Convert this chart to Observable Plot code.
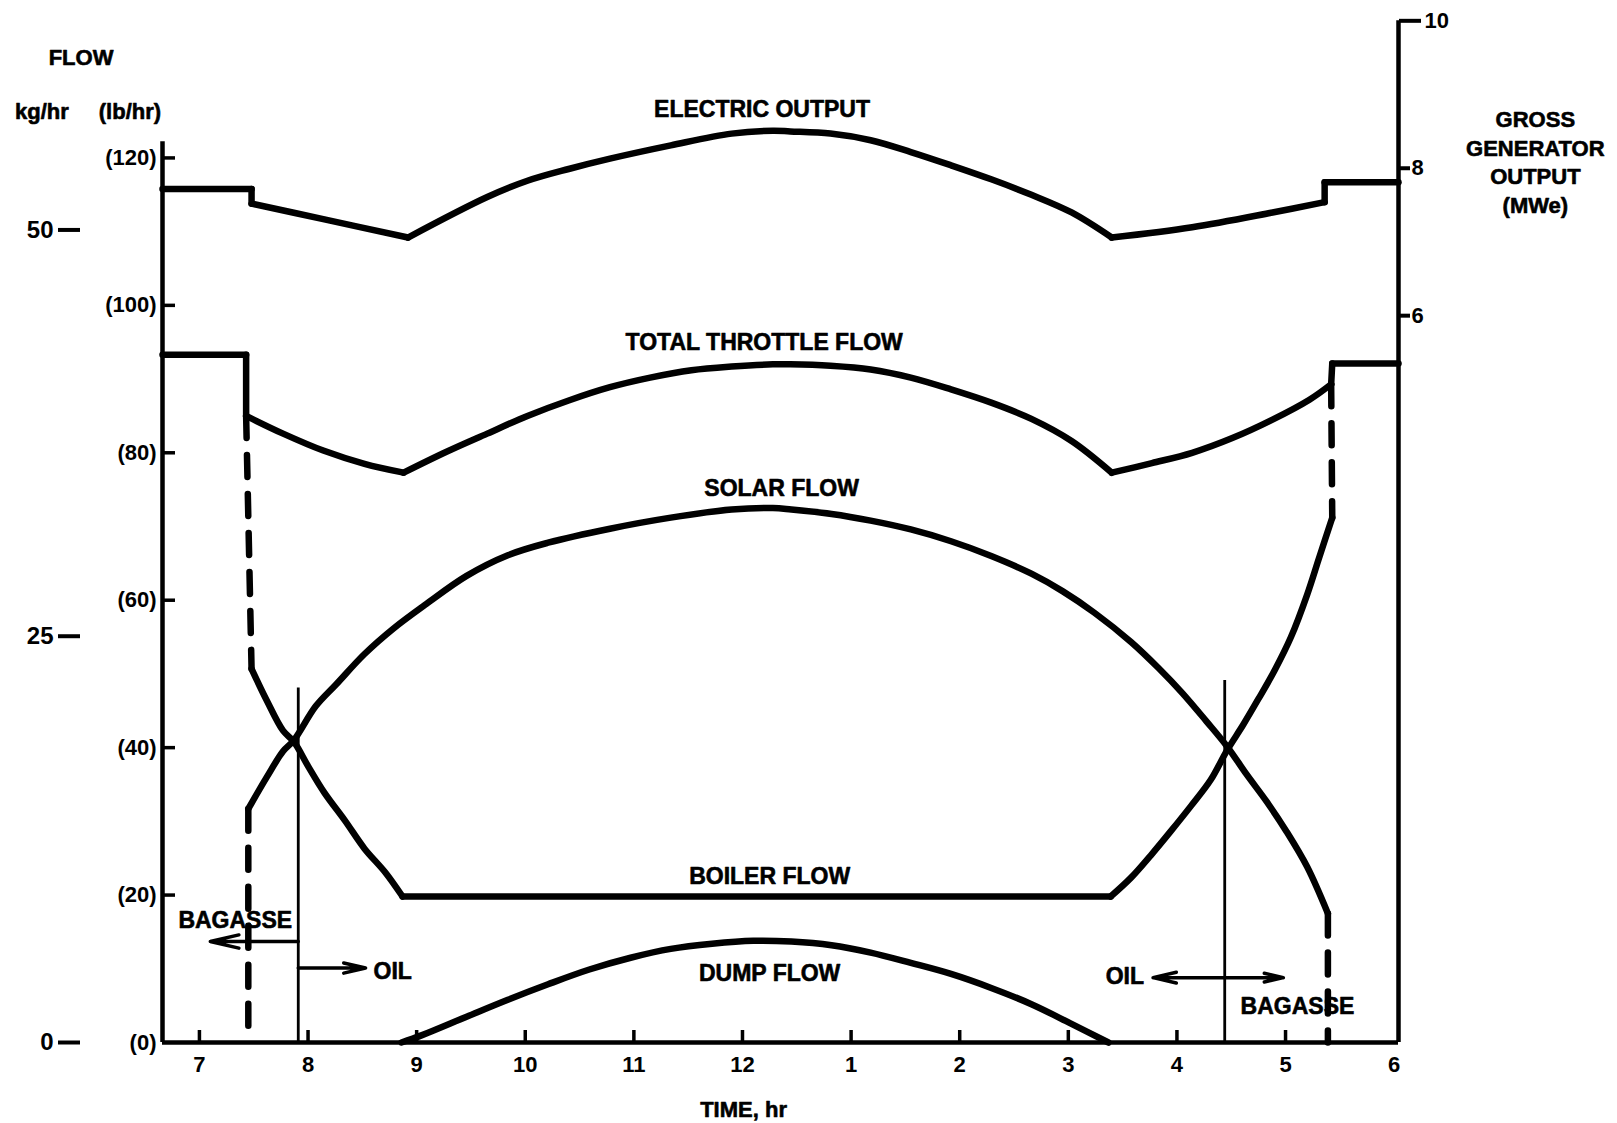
<!DOCTYPE html>
<html><head><meta charset="utf-8">
<script src="https://cdn.jsdelivr.net/npm/d3@7"></script>
<script src="https://cdn.jsdelivr.net/npm/@observablehq/plot@0.6"></script>
<style>html,body{margin:0;padding:0;background:#fff;} svg{display:block;}</style>
</head><body><div id="chart"></div>
<script>
// ---------- DATA ----------
const hourTicks = [7, 8, 9, 10, 11, 12, 13, 14, 15, 16, 17, 18];
const hourTickLabels = ["7", "8", "9", "10", "11", "12", "1", "2", "3", "4", "5", "6"];
const lbTicks = [0, 20, 40, 60, 80, 100, 120];     // flow, lb/hr (x1000)
const kgTicks = [0, 25, 50];                        // flow, kg/hr
const mweTicks = [6, 8, 10];                        // gross generator output, MWe

// [hour, MWe]
const electricOutput = [
  [6.66, 7.72], [7.48, 7.72], [7.48, 7.52], [8.14, 7.31], [8.92, 7.06],
  [9.65, 7.61], [10.02, 7.83], [10.40, 7.99], [10.78, 8.13], [11.34, 8.31],
  [11.90, 8.47], [12.28, 8.51], [12.44, 8.50], [12.81, 8.47], [13.18, 8.38],
  [13.55, 8.22], [13.92, 8.04], [14.29, 7.85], [14.66, 7.64], [15.03, 7.40],
  [15.40, 7.06], [16.14, 7.20], [16.88, 7.40], [17.36, 7.54], [17.36, 7.81],
  [18.04, 7.81]
];
const electricCorners = [1, 2, 4, 20, 23, 24];
// [hour, lb/hr]
const totalThrottleFlow = [
  [6.66, 93.3], [7.43, 93.3], [7.43, 85.0], [7.77, 82.6], [8.14, 80.3],
  [8.52, 78.5], [8.88, 77.3], [9.27, 80.1], [9.65, 82.6], [10.02, 85.0],
  [10.40, 87.1], [10.78, 88.9], [11.15, 90.2], [11.53, 91.2], [11.90, 91.7],
  [12.28, 92.0], [12.44, 92.0], [12.81, 91.8], [13.18, 91.3], [13.55, 90.2],
  [13.92, 88.6], [14.29, 86.8], [14.66, 84.6], [15.03, 81.6], [15.40, 77.3],
  [15.77, 78.6], [16.14, 80.0], [16.51, 82.0], [16.88, 84.5], [17.22, 87.2],
  [17.42, 89.3], [17.43, 92.1], [18.04, 92.1]
];
const throttleCorners = [1, 2, 6, 24, 30, 31];
const solarFlow = [
  [7.45, 31.7], [7.62, 36.0], [7.77, 39.5], [7.87, 41.0], [8.07, 45.6],
  [8.26, 48.6], [8.52, 52.7], [8.79, 56.2], [9.09, 59.5], [9.46, 63.3],
  [9.84, 66.1], [10.21, 67.8], [10.78, 69.7], [11.34, 71.2], [11.90, 72.3],
  [12.28, 72.5], [12.45, 72.3], [12.82, 71.7], [13.18, 70.8], [13.55, 69.6],
  [13.92, 68.0], [14.29, 66.0], [14.66, 63.6], [14.95, 61.2], [15.24, 58.3],
  [15.58, 54.3], [15.83, 50.8], [16.05, 47.4], [16.27, 43.6], [16.46, 40.2],
  [16.64, 36.4], [16.83, 32.6], [17.01, 28.6], [17.20, 23.8], [17.39, 17.5]
];
const solarCorners = [];
const boilerFlow = [
  [7.48, 50.7], [7.62, 46.4], [7.77, 42.3], [7.87, 40.8], [8.00, 37.5],
  [8.15, 33.9], [8.34, 30.1], [8.52, 26.3], [8.71, 23.1], [8.87, 19.8],
  [15.39, 19.8], [15.58, 22.4], [15.76, 25.4], [15.94, 28.6], [16.13, 32.1],
  [16.31, 35.6], [16.46, 39.6], [16.61, 43.1], [16.75, 46.6], [16.90, 50.5],
  [17.05, 55.0], [17.20, 60.8], [17.31, 65.8], [17.43, 71.2]
];
const boilerCorners = [9, 10];
const dumpFlow = [
  [8.86, 0], [9.05, 1.0], [9.46, 3.5], [9.84, 5.8], [10.21, 7.9],
  [10.59, 9.9], [10.97, 11.5], [11.34, 12.7], [11.72, 13.4], [12.10, 13.8],
  [12.45, 13.7], [12.82, 13.2], [13.18, 12.2], [13.55, 10.8], [13.92, 9.3],
  [14.29, 7.4], [14.66, 5.2], [15.02, 2.6], [15.37, 0]
];
const dumpCorners = [];
// bagasse-firing transitions (dashed)
const boilerTransitions = [
  [[7.43, 85.0], [7.48, 50.7]],
  [[17.42, 89.3], [17.43, 71.2]]
];
const solarTransitions = [
  [[7.45, 31.7], [7.45, 0]],
  [[17.39, 17.5], [17.39, 0]]
];
// oil / bagasse switch-over
const fuelSwitchHours = [7.91, 16.44];
const fuelSwitchTops = [48.1, 49.1];

// ---------- ANNOTATIONS ----------
const fuelArrows = [
  {from: 7.91, to: 7.10, lb: 13.7},
  {from: 7.91, to: 8.53, lb: 10.1},
  {from: 16.44, to: 15.78, lb: 8.8},
  {from: 16.44, to: 16.98, lb: 8.8}
];
const curveLabels = [
  {text: "ELECTRIC OUTPUT", hour: 12.18, lb: 126.5},
  {text: "TOTAL THROTTLE FLOW", hour: 12.20, lb: 94.9},
  {text: "SOLAR FLOW", hour: 12.36, lb: 75.2},
  {text: "BOILER FLOW", hour: 12.25, lb: 22.5},
  {text: "DUMP FLOW", hour: 12.25, lb: 9.4},
  {text: "BAGASSE", hour: 7.33, lb: 16.5},
  {text: "OIL", hour: 8.78, lb: 9.6},
  {text: "OIL", hour: 15.52, lb: 9.0},
  {text: "BAGASSE", hour: 17.11, lb: 4.9}
];
const axisTitles = [
  {text: "FLOW", hour: 5.91, lb: 133.6},
  {text: "kg/hr", hour: 5.55, lb: 126.2},
  {text: "(lb/hr)", hour: 6.36, lb: 126.2},
  {text: "TIME, hr", hour: 12.01, lb: -9.2},
  {text: "GROSS", hour: 19.30, lb: 125.1},
  {text: "GENERATOR", hour: 19.30, lb: 121.2},
  {text: "OUTPUT", hour: 19.30, lb: 117.4},
  {text: "(MWe)", hour: 19.30, lb: 113.5}
];

// ---------- SCALES / LAYOUT ----------
const KG_TO_LB = 2.20462;
const MWE_OFFSET = 38.6, MWE_SCALE = 10;      // right axis: lb-equivalent = offset + scale * MWe
const toLb = m => MWE_OFFSET + MWE_SCALE * m;
const X0 = 6.66, X1 = 18.04, LEFT_AXIS_TOP = 122.2;
const W = 1617, H = 1123, ML = 162, MR = 219, MT = 10, MB = 81;
const plotW = W - ML - MR, plotH = H - MT - MB;

// split a series into pieces at its corner points (each corner belongs to both neighbours)
function pieces(series, corners, name) {
  const cuts = [0, ...corners, series.length - 1];
  const out = [];
  for (let k = 0; k < cuts.length - 1; k++) {
    for (let i = cuts[k]; i <= cuts[k + 1]; i++) {
      out.push({hour: series[i][0], v: series[i][1], piece: `${name}-${k}`});
    }
  }
  return out;
}
const segs = (list, name) => list.flatMap((s, i) => s.map(([hour, v]) => ({hour, v, piece: `${name}-${i}`})));

const curveStyle = {x: "hour", y: "v", z: "piece", curve: "catmull-rom", stroke: "black", strokeWidth: 6.5,
  strokeLinejoin: "round", strokeLinecap: "round"};
const dashStyle = {x: "hour", y: "v", z: "piece", stroke: "black", strokeWidth: 6.5, strokeDasharray: "22,17", strokeLinecap: "round"};
const font = "'Liberation Sans', Arial, Helvetica, sans-serif";
const textStyle = {x: "hour", y: "lb", text: "text", fontWeight: "bold", fill: "black", stroke: "black", strokeWidth: 0.6};

const chart = Plot.plot({
  width: W, height: H,
  marginLeft: ML, marginRight: MR, marginTop: MT, marginBottom: MB,
  x: {domain: [X0, X1], axis: null},
  y: {domain: [0, 140], axis: null},
  style: {fontFamily: font, fontWeight: "bold", color: "black", background: "white", overflow: "visible"},
  marks: [
    // axis lines
    Plot.ruleY([0], {x1: X0, x2: X1, strokeWidth: 4.5}),
    Plot.ruleX([X0], {y1: 0, y2: LEFT_AXIS_TOP, strokeWidth: 4.5}),
    Plot.ruleX([X1], {y1: 0, y2: toLb(10), strokeWidth: 4.5}),
    // inward ticks
    Plot.tickX(hourTicks.slice(0, -1), {x: d => d, insetTop: plotH - 12, strokeWidth: 3.5}),
    Plot.tickY(lbTicks.slice(1), {y: d => d, insetRight: plotW - 13, strokeWidth: 3.5}),
    // tick labels
    Plot.axisX({ticks: hourTicks, tickSize: 0, tickPadding: 14, fontSize: 22, stroke: "black", strokeWidth: 0.4,
      tickFormat: d => hourTickLabels[hourTicks.indexOf(d)]}),
    Plot.axisY({anchor: "left", ticks: lbTicks, tickSize: 0, tickPadding: 6, fontSize: 22,
      tickFormat: d => `(${d})`}),
    Plot.axisY({anchor: "left", ticks: kgTicks.map(k => k * KG_TO_LB), tickSize: 22, tickPadding: 5,
      dx: -82, strokeWidth: 4, fontSize: 24, tickFormat: d => String(Math.round(d / KG_TO_LB))}),
    Plot.axisY({anchor: "right", ticks: mweTicks.slice(0, 2).map(toLb), tickSize: 11, tickPadding: 2,
      strokeWidth: 4, fontSize: 22, tickFormat: d => String(Math.round((d - MWE_OFFSET) / MWE_SCALE))}),
    Plot.axisY({anchor: "right", ticks: mweTicks.slice(2).map(toLb), tickSize: 22, tickPadding: 4,
      strokeWidth: 4, fontSize: 22, tickFormat: d => String(Math.round((d - MWE_OFFSET) / MWE_SCALE))}),
    // fuel switch-over lines and arrows
    Plot.ruleX(fuelSwitchHours.map((h, i) => ({h, top: fuelSwitchTops[i]})), {x: "h", y1: 0, y2: "top", strokeWidth: 2.8}),
    Plot.arrow(fuelArrows, {x1: "from", x2: "to", y1: "lb", y2: "lb", strokeWidth: 3.5, headLength: 17, headAngle: 26}),
    // curves
    Plot.line(pieces(electricOutput.map(([h, m]) => [h, toLb(m)]), electricCorners, "electric"), curveStyle),
    Plot.line(pieces(totalThrottleFlow, throttleCorners, "throttle"), curveStyle),
    Plot.line(pieces(solarFlow, solarCorners, "solar"), curveStyle),
    Plot.line(pieces(boilerFlow, boilerCorners, "boiler"), curveStyle),
    Plot.line(pieces(dumpFlow, dumpCorners, "dump"), curveStyle),
    Plot.line(segs(boilerTransitions, "boilerT"), dashStyle),
    Plot.line(segs(solarTransitions, "solarT"), dashStyle),
    // labels
    Plot.text(curveLabels, {...textStyle, fontSize: 23}),
    Plot.text(axisTitles, {...textStyle, fontSize: 22})
  ]
});
document.getElementById("chart").appendChild(chart);
</script></body></html>
